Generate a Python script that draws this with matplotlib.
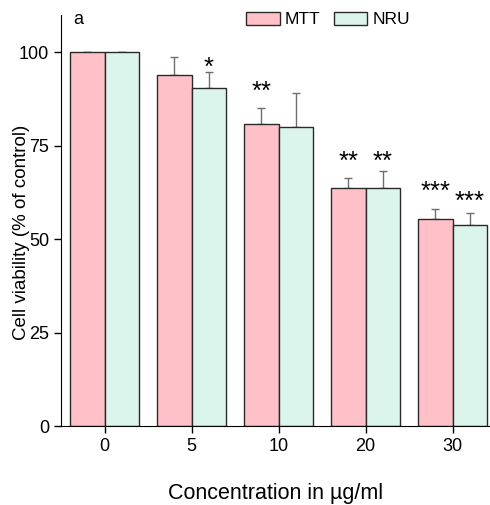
import numpy as np
import matplotlib
matplotlib.use('Agg')
import matplotlib.pyplot as plt
from matplotlib.patches import Patch

plt.rcParams['font.family'] = ['Liberation Sans', 'DejaVu Sans']

conc = ['0', '5', '10', '20', '30']
mtt = [100, 93.9, 80.9, 63.7, 55.5]
mtt_err = [0, 4.8, 4.1, 2.8, 2.5]
nru = [100, 90.4, 79.9, 63.7, 53.9]
nru_err = [0, 4.4, 9.2, 4.6, 3.0]
# significance marks and the level they sit at (% units)
mtt_star = ['', '', '**', '**', '***']
mtt_star_y = [0, 0, 91.5, 72.6, 64.6]
nru_star = ['', '*', '', '**', '***']
nru_star_y = [0, 97.8, 0, 72.6, 62.1]

fig = plt.figure(figsize=(4.9, 5.05), dpi=100)
ax = fig.add_axes([0.1245, 0.1564, 0.8755, 0.814])

x = np.arange(len(conc))
w = 0.4
ax.bar(x - w/2, mtt, w, color='#ffc1c7', edgecolor='#2a2a2a', linewidth=1, zorder=2)
ax.bar(x + w/2, nru, w, color='#dcf5ec', edgecolor='#2a2a2a', linewidth=1, zorder=2)
ax.errorbar(x - w/2, mtt, yerr=[np.zeros(5), mtt_err], fmt='none', ecolor='#6e6e6e',
            elinewidth=1, capsize=3, capthick=1, zorder=1)
ax.errorbar(x + w/2, nru, yerr=[np.zeros(5), nru_err], fmt='none', ecolor='#6e6e6e',
            elinewidth=1, capsize=3, capthick=1, zorder=1)

for i in range(len(conc)):
    if mtt_star[i]:
        ax.annotate(mtt_star[i], (x[i] - w/2, mtt_star_y[i]), xytext=(0, -10.5),
                    textcoords='offset points', ha='center', va='baseline', fontsize=18.5)
    if nru_star[i]:
        ax.annotate(nru_star[i], (x[i] + w/2, nru_star_y[i]), xytext=(0, -10.5),
                    textcoords='offset points', ha='center', va='baseline', fontsize=18.5)

ax.set_xlim(-0.5, 4.43)
ax.set_ylim(0, 110)
ax.set_yticks([0, 25, 50, 75, 100])
ax.set_xticks(x)
ax.set_xticklabels(conc)
ax.tick_params(axis='both', direction='out', length=5, width=1, labelsize=13)
ax.spines['top'].set_visible(False)
ax.spines['right'].set_visible(False)
ax.set_ylabel('Cell viability (% of control)', fontsize=13.5)
ax.yaxis.set_label_coords(-0.072, 0.47)
ax.set_xlabel('Concentration in µg/ml', fontsize=15.5, labelpad=20)

ax.text(0.028, 0.99, 'a', transform=ax.transAxes, fontsize=13, va='center')

handles = [Patch(facecolor='#ffc1c7', edgecolor='#2a2a2a', label='MTT'),
           Patch(facecolor='#dcf5ec', edgecolor='#2a2a2a', label='NRU')]
ax.legend(handles=handles, loc='upper left', bbox_to_anchor=(0.431, 1.007), ncol=2, frameon=False,
          fontsize=12.5, handlelength=1.95, handleheight=0.75, handletextpad=0.3,
          columnspacing=0.75, borderpad=0, borderaxespad=0)

fig.savefig('out.png', dpi=100)
